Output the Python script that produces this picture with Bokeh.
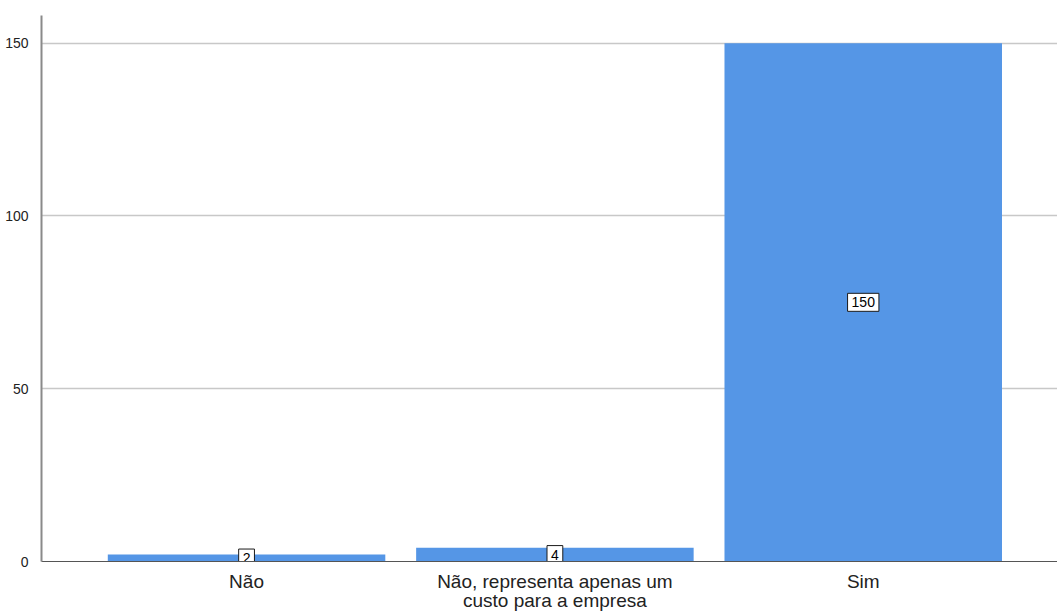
from bokeh.plotting import figure
from bokeh.models import ColumnDataSource, Range1d, FixedTicker
from bokeh.core.properties import value
from bokeh.embed import file_html
from bokeh.resources import INLINE

categories = ["Não", "Não, representa apenas um\ncusto para a empresa", "Sim"]
counts = [2, 4, 150]
y_ticks = [0, 50, 100, 150]

positions = list(range(len(categories)))

source = ColumnDataSource(data=dict(
    pos=positions,
    count=counts,
    mid=[c / 2 for c in counts],
    label=[str(c) for c in counts],
))

p = figure(
    x_range=Range1d(-0.665, len(categories) - 1 + 0.63),
    y_range=Range1d(0, 158),
    width=1057, height=614,
    output_backend="svg", toolbar_location=None,
    min_border_left=41, min_border_right=0, min_border_top=15, min_border_bottom=53,
)

p.vbar(x="pos", top="count", width=0.9, source=source,
       fill_color="#5596e6", line_color=None)

# boxed count labels in the middle of each bar
p.text(x="pos", y="mid", text="label", source=source,
       text_align="center", text_baseline="middle",
       text_font=value("Liberation Sans"), text_font_size="14px", text_color="#000000",
       background_fill_color="white", border_line_color="#1a1a1a",
       border_line_width=1, padding=4)

p.outline_line_color = None
p.background_fill_color = "white"

p.xgrid.grid_line_color = None
p.ygrid.grid_line_color = "#c8c8c8"
p.ygrid.grid_line_width = 1.5
p.yaxis.ticker = FixedTicker(ticks=y_ticks)

p.yaxis.axis_line_color = "#8a8a8a"
p.yaxis.axis_line_width = 2
p.yaxis.major_tick_line_color = None
p.yaxis.minor_tick_line_color = None
p.yaxis.major_label_text_font = "Liberation Sans"
p.yaxis.major_label_text_font_size = "14px"
p.yaxis.major_label_text_color = "#222222"
p.yaxis.major_label_standoff = 7

p.xaxis.ticker = FixedTicker(ticks=positions)
p.xaxis.major_label_overrides = {i: c for i, c in zip(positions, categories)}
p.xaxis.axis_line_color = "#555555"
p.xaxis.axis_line_width = 1
p.xaxis.major_tick_line_color = None
p.xaxis.minor_tick_line_color = None
p.xaxis.major_label_text_font = "Liberation Sans"
p.xaxis.major_label_text_font_size = "19px"
p.xaxis.major_label_text_color = "#222222"
p.xaxis.major_label_standoff = 3
p.xaxis.major_label_text_line_height = 0.92

open("out.html", "w").write(file_html(p, INLINE))
